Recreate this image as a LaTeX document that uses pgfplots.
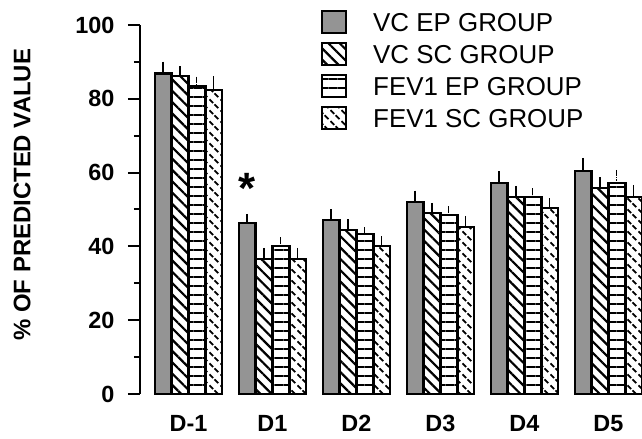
\documentclass[border=0pt]{standalone}
\usepackage{fontspec}
\setmainfont{Liberation Sans}
\usepackage{pgfplots}
\pgfplotsset{compat=1.18}
\usetikzlibrary{patterns.meta}

% short slanted dashes for the FEV1 SC bars
\tikzdeclarepattern{
  name=sdash, type=uncolored,
  bounding box={(0bp,0bp) and (11bp,11bp)},
  tile size={(11bp,11bp)},
  code={
    \draw[line width=2bp] (0.5bp,10.5bp) -- (4.5bp,6.5bp);
    \draw[line width=2bp] (6bp,5bp) -- (10bp,1bp);
  }
}

\pgfplotsset{
  errs/.style={error bars/.cd, y dir=plus, y explicit,
    error bar style={line width=1.6bp, solid},
    error mark options={line width=1.6bp, mark size=4bp}, /pgfplots/.cd},
  errsthin/.style={error bars/.cd, y dir=plus, y explicit,
    error bar style={line width=0.8bp, densely dotted},
    error mark options={line width=0.8bp, mark size=3bp, solid}, /pgfplots/.cd},
}

\begin{document}
\begin{tikzpicture}
\useasboundingbox (-140bp,-45bp) rectangle (502bp,394bp);
\begin{axis}[
  at={(0,0)}, anchor=south west,
  scale only axis, width=502bp, height=369bp,
  xmin=-0.577, xmax=5.4, ymin=0, ymax=100,
  ybar, bar width=16.8bp,
  axis x line*=bottom, axis y line*=left,
  x axis line style={draw=none},
  y axis line style={line width=2.6bp},
  xtick={0,...,5},
  xticklabels={D-1,D1,D2,D3,D4,D5},
  xtick style={draw=none},
  ytick={0,20,...,100},
  minor ytick={10,30,50,70,90},
  tick align=outside,
  major tick length=12bp, minor tick length=6bp,
  ytick style={line width=2bp, black},
  minor tick style={line width=2bp, black},
  /pgf/number format/assume math mode=true,
  ticklabel style={font=\fontsize{23.5}{25}\selectfont\bfseries},
  xticklabel style={yshift=-6bp},
  yticklabel style={xshift=-10bp},
  ylabel={\% OF PREDICTED VALUE},
  ylabel style={at={(axis description cs:-0.235,0.54)}, anchor=center,
    font=\fontsize{24}{26}\selectfont\bfseries},
  every axis plot post/.append style={
    legend image code/.code={\draw[##1,/tikz/.cd,line width=2bp] (0bp,-11bp) rectangle (24bp,11bp);}},
  legend style={at={(axis description cs:0.3606,1.0407)}, anchor=north west,
    draw=none, fill=none, inner sep=0pt, font=\fontsize{26}{28}\selectfont,
    row sep=8bp, column sep=25bp,
    nodes={inner sep=1bp, text height=19bp, text depth=0bp}},
  legend cell align=left,
  clip=false,
]
\addplot[draw=black, line width=2.6bp, fill=black!42, bar shift=-25.2bp, errs]
  coordinates {(0,86.8) +- (0,2.2) (1,46.3) +- (0,1.4) (2,47.2) +- (0,1.8)
               (3,52.0) +- (0,2.0) (4,57.2) +- (0,2.1) (5,60.4) +- (0,2.5)};
\addplot[draw=black, line width=2.6bp, fill=white,
  pattern={Lines[angle=-45,distance=8bp,line width=2.2bp]}, bar shift=-8.4bp, errs]
  coordinates {(0,86.2) +- (0,1.5) (1,36.6) +- (0,1.9) (2,44.4) +- (0,1.9)
               (3,49.0) +- (0,1.7) (4,53.4) +- (0,1.9) (5,55.8) +- (0,1.9)};
\addplot[draw=black, line width=2.6bp, fill=white,
  pattern={Lines[angle=0,distance=9bp,line width=1.5bp]}, bar shift=8.4bp, errsthin]
  coordinates {(0,83.4) +- (0,1.8) (1,40.1) +- (0,1.6) (2,43.4) +- (0,1.0)
               (3,48.5) +- (0,1.5) (4,53.4) +- (0,1.6) (5,57.2) +- (0,2.7)};
\addplot[draw=black, line width=2.6bp, fill=white, pattern=sdash, bar shift=25.2bp, errs]
  coordinates {(0,82.4) +- (0,2.6) (1,36.6) +- (0,1.9) (2,40.1) +- (0,1.6)
               (3,45.3) +- (0,1.9) (4,50.4) +- (0,1.6) (5,53.4) +- (0,2.2)};
\legend{VC EP GROUP, VC SC GROUP, FEV1 EP GROUP, FEV1 SC GROUP}
\node[font=\fontsize{44}{44}\selectfont\bfseries] at (axis cs:0.7,55.8) {*};
\end{axis}
\end{tikzpicture}
\end{document}
